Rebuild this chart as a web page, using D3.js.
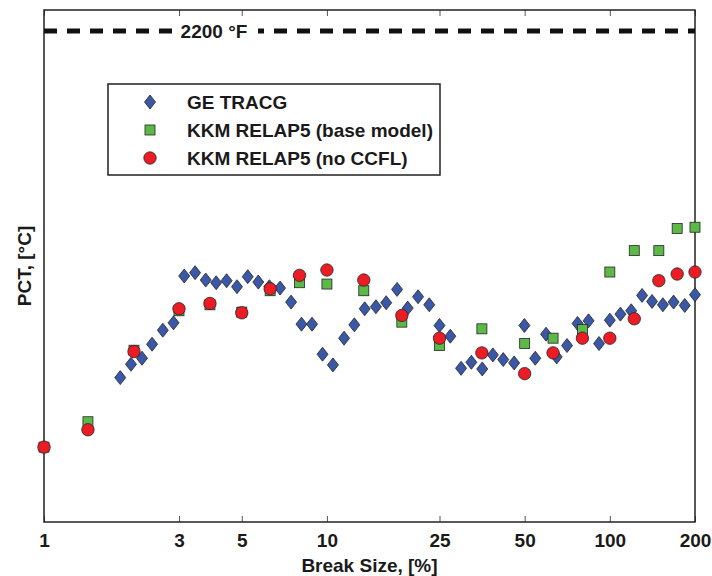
<!DOCTYPE html>
<meta charset="utf-8">
<style>
    html, body { margin: 0; padding: 0; background: #fff; }
    text { font-family: "Liberation Sans", Arial, sans-serif; font-weight: bold; fill: #1a1a1a; }
</style>
<body>
<script src="https://cdnjs.cloudflare.com/ajax/libs/d3/7.8.5/d3.min.js"></script>
<script>
  // GE TRACG (break size %, PCT degC)
  var tracgSize = [1.86, 2.03, 2.22, 2.41, 2.63, 2.87, 3.13, 3.42, 3.73, 4.06, 4.42, 4.81, 5.25, 5.72,
    6.26, 6.83, 7.47, 8.13, 8.86, 9.65, 10.5, 11.5, 12.5, 13.6, 14.9, 16.2, 17.7, 19.3, 21.0, 23.0,
    25.0, 27.3, 29.8, 32.4, 35.4, 38.6, 42.0, 45.9, 49.9, 54.5, 59.5, 64.9, 70.6, 76.9, 84.1, 91.6,
    100, 109, 119, 130, 141, 154, 168, 184, 200];
  var tracgPct = [686, 706, 715, 736, 757, 768, 838, 843, 832, 828, 831, 822, 837, 829,
    822, 820, 799, 766, 766, 721, 705, 745, 765, 789, 792, 798, 818, 790, 807, 795,
    764, 748, 700, 709, 699, 720, 713, 708, 764, 715, 751, 717, 734, 767, 771, 737,
    772, 781, 786, 809, 800, 795, 799, 794, 810];

  // KKM RELAP5 runs share the same break sizes
  var relapSize = [1, 1.43, 2.08, 3, 3.86, 5, 6.3, 8, 10, 13.5, 18.4, 25, 35.3, 50, 63, 80, 100, 122, 149, 173, 200];
  var basePct = [582, 620, 727, 786, 795, 784, 816, 828, 826, 816, 769, 734, 759, 737, 745, 758, 844, 876, 876, 909, 911];
  var noCcflPct = [582, 608, 725, 789, 797, 783, 819, 839, 847, 832, 779, 745, 723, 692, 723, 745, 745, 774, 831, 841, 844];

  var xTicks = [1, 3, 5, 10, 25, 50, 100, 200];
  var limitC = 1204.4; // 2200 F
  var legendNames = ["GE TRACG", "KKM RELAP5 (base model)", "KKM RELAP5 (no CCFL)"];

  var W = 712, H = 576;
  var pL = 44, pR = 695, pT = 10, pB = 522;

  var svg = d3.select("body").append("svg").attr("width", W).attr("height", H);

  var x = d3.scaleLog().domain([1, 200]).range([pL, pR]);
  var y = d3.scaleLinear().domain([470, 1236]).range([pB, pT]);

  var blue = "#3b58a6", green = "#5cb946", red = "#ec1c24", edge = "#23242a";

  // ticks, inside, top and bottom
  var axB = d3.axisBottom(x).tickValues(xTicks).tickSize(-6).tickPadding(12).tickFormat(d3.format("d"));
  var gb = svg.append("g").attr("transform", "translate(0," + pB + ")").call(axB);
  gb.select(".domain").remove();
  gb.selectAll(".tick line").attr("stroke", "#555");
  gb.selectAll(".tick text").attr("font-size", 19).attr("fill", "#1a1a1a")
    .attr("font-family", "Liberation Sans, Arial, sans-serif").attr("font-weight", "bold");

  var axT = d3.axisTop(x).tickValues(xTicks).tickSize(-6).tickFormat("");
  var gt = svg.append("g").attr("transform", "translate(0," + pT + ")").call(axT);
  gt.select(".domain").remove();
  gt.selectAll(".tick line").attr("stroke", "#555");

  // frame
  svg.append("rect").attr("x", pL).attr("y", pT)
    .attr("width", pR - pL).attr("height", pB - pT)
    .attr("fill", "none").attr("stroke", "#222").attr("stroke-width", 1.5);

  // 2200 F limit line
  svg.append("line").attr("x1", pL).attr("x2", pR)
    .attr("y1", y(limitC)).attr("y2", y(limitC))
    .attr("stroke", "#111").attr("stroke-width", 5).attr("stroke-dasharray", "13,10");
  svg.append("rect").attr("x", 175).attr("y", y(limitC) - 12).attr("width", 83).attr("height", 24).attr("fill", "#fff");
  svg.append("text").attr("x", 214).attr("y", y(limitC) + 7).attr("text-anchor", "middle")
    .attr("font-size", 19).text("2200 \u00B0F");

  var diamond = "M0,-7L5.5,0L0,7L-5.5,0Z";

  var tracg = tracgSize.map(function (s, i) { return [s, tracgPct[i]]; });
  var base = relapSize.map(function (s, i) { return [s, basePct[i]]; });
  var noCcfl = relapSize.map(function (s, i) { return [s, noCcflPct[i]]; });

  svg.append("g").selectAll("path").data(tracg).enter().append("path")
    .attr("d", diamond)
    .attr("transform", function (d) { return "translate(" + x(d[0]) + "," + y(d[1]) + ")"; })
    .attr("fill", blue).attr("stroke", edge).attr("stroke-width", 0.8);

  svg.append("g").selectAll("rect").data(base).enter().append("rect")
    .attr("x", function (d) { return x(d[0]) - 5; })
    .attr("y", function (d) { return y(d[1]) - 5; })
    .attr("width", 10).attr("height", 10)
    .attr("fill", green).attr("stroke", edge).attr("stroke-width", 0.8);

  svg.append("g").selectAll("circle").data(noCcfl).enter().append("circle")
    .attr("cx", function (d) { return x(d[0]); })
    .attr("cy", function (d) { return y(d[1]); })
    .attr("r", 6.2)
    .attr("fill", red).attr("stroke", edge).attr("stroke-width", 0.8);

  // legend
  var lg = svg.append("g");
  lg.append("rect").attr("x", 108).attr("y", 84).attr("width", 332).attr("height", 91)
    .attr("fill", "#fff").attr("stroke", "#222").attr("stroke-width", 1.5);
  var rows = [102, 130, 158];
  lg.append("path").attr("d", diamond).attr("transform", "translate(150," + rows[0] + ")")
    .attr("fill", blue).attr("stroke", edge).attr("stroke-width", 0.8);
  lg.append("rect").attr("x", 145).attr("y", rows[1] - 5).attr("width", 10).attr("height", 10)
    .attr("fill", green).attr("stroke", edge).attr("stroke-width", 0.8);
  lg.append("circle").attr("cx", 150).attr("cy", rows[2]).attr("r", 6.2)
    .attr("fill", red).attr("stroke", edge).attr("stroke-width", 0.8);
  legendNames.forEach(function (n, i) {
    lg.append("text").attr("x", 187).attr("y", rows[i] + 7).attr("font-size", 19).text(n);
  });

  // axis titles
  svg.append("text").attr("x", (pL + pR) / 2).attr("y", 572).attr("text-anchor", "middle")
    .attr("font-size", 19).text("Break Size, [%]");
  svg.append("text").attr("transform", "translate(31," + ((pT + pB) / 2) + ") rotate(-90)")
    .attr("text-anchor", "middle").attr("font-size", 19).text("PCT, [\u00B0C]");
</script>
</body>
